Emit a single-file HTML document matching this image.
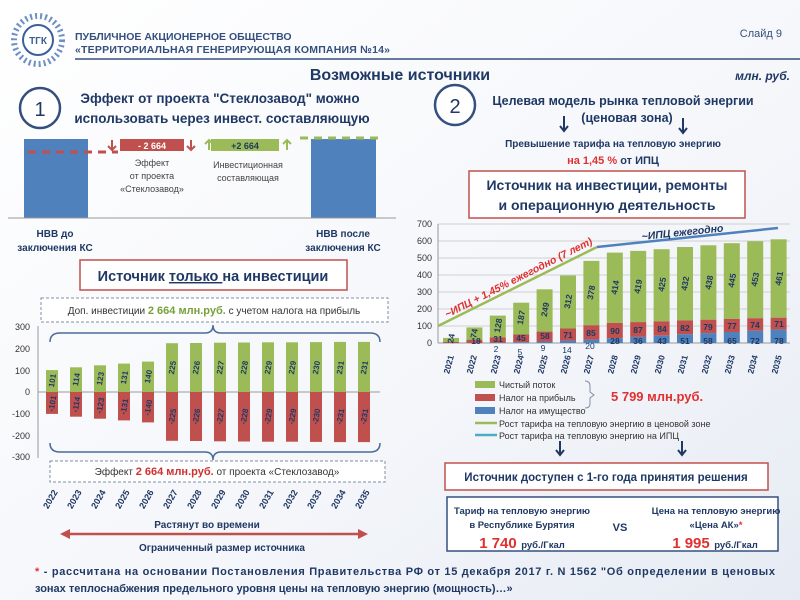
<!DOCTYPE html>
<html><head><meta charset="utf-8"><style>
html,body{margin:0;padding:0;background:#fff}
svg{display:block;font-family:"Liberation Sans","DejaVu Sans",sans-serif}
.b{font-weight:bold}
</style></head><body>
<svg width="800" height="600" viewBox="0 0 800 600" xmlns="http://www.w3.org/2000/svg">
<defs>
<linearGradient id="bg" x1="0" y1="0" x2="1" y2="1"><stop offset="0" stop-color="#fff"/><stop offset="0.6" stop-color="#f4f6fa"/><stop offset="1" stop-color="#e6ebf3"/></linearGradient>
</defs>
<rect width="800" height="600" fill="url(#bg)"/>
<!-- header -->
<g transform="translate(38,40)">
<circle r="24" fill="none" stroke="#6d8fc4" stroke-width="6" stroke-dasharray="2 3"/>
<circle r="15" fill="#fff" stroke="#3b5f9a" stroke-width="2"/>
<text x="0" y="4" font-size="10" text-anchor="middle" fill="#3b5f9a" class="b">ТГК</text>
</g>
<text x="75" y="40" font-size="10.5" class="b" fill="#35507e">ПУБЛИЧНОЕ АКЦИОНЕРНОЕ ОБЩЕСТВО</text>
<text x="75" y="53" font-size="10.5" class="b" fill="#35507e" textLength="315">«ТЕРРИТОРИАЛЬНАЯ ГЕНЕРИРУЮЩАЯ КОМПАНИЯ №14»</text>
<line x1="75" y1="59" x2="800" y2="59" stroke="#35507e" stroke-width="1.5"/>
<text x="782" y="37" font-size="11" fill="#35507e" text-anchor="end">Слайд 9</text>
<text x="400" y="80" font-size="16" class="b" fill="#1f3864" text-anchor="middle">Возможные источники</text>
<text x="790" y="80" font-size="12" class="b" font-style="italic" fill="#1f3864" text-anchor="end">млн. руб.</text>

<!-- section 1 -->
<circle cx="40" cy="108" r="20" fill="#fff" stroke="#35507e" stroke-width="2.5"/>
<text x="40" y="116" font-size="20" fill="#1f3864" text-anchor="middle">1</text>
<text x="220" y="103" font-size="13.5" class="b" fill="#1f3864" text-anchor="middle">Эффект от проекта "Стеклозавод" можно</text>
<text x="222" y="123" font-size="13.5" class="b" fill="#1f3864" text-anchor="middle">использовать  через инвест. составляющую</text>
<rect x="24" y="139" width="64" height="79" fill="#4f81bd"/>
<rect x="311" y="139" width="65" height="79" fill="#4f81bd"/>
<line x1="28" y1="152" x2="118" y2="152" stroke="#c0504d" stroke-width="3" stroke-dasharray="8 6"/>
<line x1="300" y1="138" x2="378" y2="138" stroke="#9bbb59" stroke-width="3" stroke-dasharray="8 6"/>
<line x1="8" y1="218" x2="396" y2="218" stroke="#999" stroke-width="1"/>
<rect x="120" y="139" width="64" height="12" fill="#c0504d"/>
<text x="152" y="149" font-size="9" class="b" fill="#fff" text-anchor="middle">- 2 664</text>
<rect x="211" y="139" width="68" height="12" fill="#9bbb59"/>
<text x="245" y="149" font-size="9" class="b" fill="#1f3864" text-anchor="middle">+2 664</text>
<path d="M112 140 L112 150 M108 146 L112 150 L116 146 M191 140 L191 150 M187 146 L191 150 L195 146" stroke="#c0504d" stroke-width="2" fill="none"/>
<path d="M209 150 L209 140 M205 144 L209 140 L213 144 M287 150 L287 140 M283 144 L287 140 L291 144" stroke="#9bbb59" stroke-width="2" fill="none"/>
<text x="152" y="166" font-size="9" fill="#444" text-anchor="middle">Эффект</text>
<text x="152" y="179" font-size="9" fill="#444" text-anchor="middle">от проекта</text>
<text x="152" y="192" font-size="9" fill="#444" text-anchor="middle">«Стеклозавод»</text>
<text x="248" y="168" font-size="9" fill="#444" text-anchor="middle">Инвестиционная</text>
<text x="248" y="181" font-size="9" fill="#444" text-anchor="middle">составляющая</text>
<text x="55" y="237" font-size="10" class="b" fill="#1f3864" text-anchor="middle">НВВ до</text>
<text x="55" y="251" font-size="10" class="b" fill="#1f3864" text-anchor="middle">заключения КС</text>
<text x="343" y="237" font-size="10" class="b" fill="#1f3864" text-anchor="middle">НВВ после</text>
<text x="343" y="251" font-size="10" class="b" fill="#1f3864" text-anchor="middle">заключения КС</text>
<rect x="80" y="260" width="267" height="30" fill="#fff" stroke="#c0504d" stroke-width="1.5"/>
<text x="213" y="281" font-size="14.5" class="b" fill="#1f3864" text-anchor="middle">Источник <tspan text-decoration="underline">только </tspan>на инвестиции</text>
<rect x="41" y="298" width="347" height="24" fill="#fff" stroke="#7f8fa6" stroke-dasharray="3 2"/>
<text x="214" y="314" font-size="10" fill="#333" text-anchor="middle">Доп. инвестиции <tspan class="b" fill="#77a03c" font-size="11">2 664 млн.руб.</tspan> с учетом налога на прибыль</text>
<rect x="50" y="461" width="335" height="21" fill="#fff" stroke="#7f8fa6" stroke-dasharray="3 2"/>
<text x="217" y="475" font-size="10" fill="#333" text-anchor="middle">Эффект <tspan class="b" fill="#d03030" font-size="11">2 664 млн.руб.</tspan> от проекта «Стеклозавод»</text>
<!-- braces -->
<path d="M50 342 Q50 333 60 333 L205 333 Q213 333 213 325 Q213 333 221 333 L370 333 Q380 333 380 342" fill="none" stroke="#4a6a9a" stroke-width="1.5"/>
<path d="M50 443 Q50 452 60 452 L205 452 Q213 452 213 460 Q213 452 221 452 L370 452 Q380 452 380 443" fill="none" stroke="#4a6a9a" stroke-width="1.5"/>
<!-- left chart axes -->
<g font-size="9" fill="#333" text-anchor="end">
<text x="30" y="330">300</text><text x="30" y="352">200</text><text x="30" y="374">100</text><text x="30" y="395">0</text>
<text x="30" y="417">-100</text><text x="30" y="439">-200</text><text x="30" y="460">-300</text></g>
<line x1="38" y1="326" x2="38" y2="458" stroke="#999"/>
<line x1="38" y1="392" x2="380" y2="392" stroke="#999"/>
<g fill="#9bbb59">
<rect x="46" y="370.1" width="12" height="21.9"/><rect x="70" y="367.3" width="12" height="24.7"/><rect x="94" y="365.3" width="12" height="26.7"/><rect x="118" y="363.6" width="12" height="28.4"/><rect x="142" y="361.6" width="12" height="30.4"/>
<rect x="166" y="343.2" width="12" height="48.8"/><rect x="190" y="343" width="12" height="49"/><rect x="214" y="342.7" width="12" height="49.3"/><rect x="238" y="342.5" width="12" height="49.5"/><rect x="262" y="342.3" width="12" height="49.7"/><rect x="286" y="342.3" width="12" height="49.7"/><rect x="310" y="342.1" width="12" height="49.9"/><rect x="334" y="341.9" width="12" height="50.1"/><rect x="358" y="341.9" width="12" height="50.1"/></g>
<g fill="#c0504d">
<rect x="46" y="392" width="12" height="21.9"/><rect x="70" y="392" width="12" height="24.7"/><rect x="94" y="392" width="12" height="26.7"/><rect x="118" y="392" width="12" height="28.4"/><rect x="142" y="392" width="12" height="30.4"/>
<rect x="166" y="392" width="12" height="48.8"/><rect x="190" y="392" width="12" height="49"/><rect x="214" y="392" width="12" height="49.3"/><rect x="238" y="392" width="12" height="49.5"/><rect x="262" y="392" width="12" height="49.7"/><rect x="286" y="392" width="12" height="49.7"/><rect x="310" y="392" width="12" height="49.9"/><rect x="334" y="392" width="12" height="50.1"/><rect x="358" y="392" width="12" height="50.1"/></g>
<g font-size="8" class="b" fill="#1f3864" text-anchor="middle">
<text transform="translate(55,381) rotate(-80)">101</text><text transform="translate(79,380) rotate(-80)">114</text><text transform="translate(103,379) rotate(-80)">123</text><text transform="translate(127,378) rotate(-80)">131</text><text transform="translate(151,377) rotate(-80)">140</text>
<text transform="translate(175,368) rotate(-80)">225</text><text transform="translate(199,368) rotate(-80)">226</text><text transform="translate(223,368) rotate(-80)">227</text><text transform="translate(247,368) rotate(-80)">228</text><text transform="translate(271,368) rotate(-80)">229</text><text transform="translate(295,368) rotate(-80)">229</text><text transform="translate(319,368) rotate(-80)">230</text><text transform="translate(343,368) rotate(-80)">231</text><text transform="translate(367,368) rotate(-80)">231</text>
<text transform="translate(55,404) rotate(-80)">-101</text><text transform="translate(79,405) rotate(-80)">-114</text><text transform="translate(103,406) rotate(-80)">-123</text><text transform="translate(127,407) rotate(-80)">-131</text><text transform="translate(151,408) rotate(-80)">-140</text>
<text transform="translate(175,417) rotate(-80)">-225</text><text transform="translate(199,417) rotate(-80)">-226</text><text transform="translate(223,417) rotate(-80)">-227</text><text transform="translate(247,417) rotate(-80)">-228</text><text transform="translate(271,417) rotate(-80)">-229</text><text transform="translate(295,417) rotate(-80)">-229</text><text transform="translate(319,417) rotate(-80)">-230</text><text transform="translate(343,417) rotate(-80)">-231</text><text transform="translate(367,417) rotate(-80)">-231</text></g>
<g font-size="9" class="b" fill="#1f3864" text-anchor="end">
<text transform="translate(58,492) rotate(-60)">2022</text><text transform="translate(82,492) rotate(-60)">2023</text><text transform="translate(106,492) rotate(-60)">2024</text><text transform="translate(130,492) rotate(-60)">2025</text><text transform="translate(154,492) rotate(-60)">2026</text><text transform="translate(178,492) rotate(-60)">2027</text><text transform="translate(202,492) rotate(-60)">2028</text><text transform="translate(226,492) rotate(-60)">2029</text><text transform="translate(250,492) rotate(-60)">2030</text><text transform="translate(274,492) rotate(-60)">2031</text><text transform="translate(298,492) rotate(-60)">2032</text><text transform="translate(322,492) rotate(-60)">2033</text><text transform="translate(346,492) rotate(-60)">2034</text><text transform="translate(370,492) rotate(-60)">2035</text></g>
<text x="207" y="528" font-size="10" class="b" fill="#1f3864" text-anchor="middle">Растянут во времени</text>
<path d="M66 534 L362 534" stroke="#c0504d" stroke-width="2.5"/>
<path d="M60 534 L70 529 L70 539 Z M368 534 L358 529 L358 539 Z" fill="#c0504d"/>
<text x="222" y="551" font-size="10" class="b" fill="#1f3864" text-anchor="middle">Ограниченный размер источника</text>

<!-- section 2 -->
<circle cx="455" cy="105" r="20" fill="#fff" stroke="#35507e" stroke-width="2.5"/>
<text x="455" y="113" font-size="20" fill="#1f3864" text-anchor="middle">2</text>
<text x="623" y="105" font-size="12.5" class="b" fill="#1f3864" text-anchor="middle">Целевая модель рынка тепловой энергии</text>
<text x="627" y="122" font-size="12.5" class="b" fill="#1f3864" text-anchor="middle">(ценовая зона)</text>
<path d="M564 116 L564 131 M560 126 L564 131 L568 126 M683 118 L683 133 M679 128 L683 133 L687 128" stroke="#1f3864" stroke-width="2" fill="none"/>
<text x="613" y="147" font-size="10" class="b" fill="#1f3864" text-anchor="middle">Превышение тарифа на тепловую энергию</text>
<text x="613" y="164" font-size="11" class="b" fill="#1f3864" text-anchor="middle"><tspan fill="#e03030">на 1,45 %</tspan> от ИПЦ</text>
<rect x="469" y="171" width="276" height="47" fill="#fff" stroke="#c0504d" stroke-width="1.5"/>
<text x="607" y="190" font-size="14" class="b" fill="#1f3864" text-anchor="middle">Источник на инвестиции, ремонты</text>
<text x="607" y="210" font-size="14" class="b" fill="#1f3864" text-anchor="middle">и операционную деятельность</text>
<!-- right chart -->
<g stroke="#d0d0d0"><line x1="438" y1="224" x2="790" y2="224"/><line x1="438" y1="241" x2="790" y2="241"/><line x1="438" y1="258" x2="790" y2="258"/><line x1="438" y1="275" x2="790" y2="275"/><line x1="438" y1="292" x2="790" y2="292"/><line x1="438" y1="309" x2="790" y2="309"/><line x1="438" y1="326" x2="790" y2="326"/></g>
<line x1="438" y1="224" x2="438" y2="343" stroke="#999"/><line x1="438" y1="343" x2="790" y2="343" stroke="#999"/>
<g font-size="9" fill="#333" text-anchor="end">
<text x="432" y="227">700</text><text x="432" y="244">600</text><text x="432" y="261">500</text><text x="432" y="278">400</text><text x="432" y="295">300</text><text x="432" y="312">200</text><text x="432" y="329">100</text><text x="432" y="346">0</text></g>
<g fill="#9bbb59">
<rect x="443" y="337.9" width="16" height="4.1"/><rect x="466.4" y="327.4" width="16" height="12.6"/><rect x="489.8" y="315.6" width="16" height="21.8"/><rect x="513.2" y="302.7" width="16" height="31.8"/><rect x="536.6" y="289.3" width="16" height="42.3"/><rect x="560" y="275.5" width="16" height="53"/><rect x="583.4" y="260.9" width="16" height="64.3"/><rect x="606.8" y="252.6" width="16" height="70.3"/><rect x="630.2" y="250.9" width="16" height="71.2"/><rect x="653.6" y="249.2" width="16" height="72.2"/><rect x="677" y="247" width="16" height="73.4"/><rect x="700.4" y="245.3" width="16" height="74.4"/><rect x="723.8" y="243.2" width="16" height="75.7"/><rect x="747.2" y="241.2" width="16" height="77"/><rect x="770.6" y="239.3" width="16" height="78.4"/></g>
<g fill="#c0504d">
<rect x="443" y="342" width="16" height="1"/><rect x="466.4" y="339.9" width="16" height="3.1"/><rect x="489.8" y="337.4" width="16" height="5.3"/><rect x="513.2" y="334.5" width="16" height="7.7"/><rect x="536.6" y="331.6" width="16" height="9.9"/><rect x="560" y="328.5" width="16" height="12.1"/><rect x="583.4" y="325.2" width="16" height="14.4"/><rect x="606.8" y="322.9" width="16" height="15.3"/><rect x="630.2" y="322.1" width="16" height="14.8"/><rect x="653.6" y="321.4" width="16" height="14.3"/><rect x="677" y="320.4" width="16" height="13.9"/><rect x="700.4" y="319.7" width="16" height="13.4"/><rect x="723.8" y="318.9" width="16" height="13.1"/><rect x="747.2" y="318.2" width="16" height="12.6"/><rect x="770.6" y="317.7" width="16" height="12.1"/></g>
<g fill="#4f81bd">
<rect x="489.8" y="342.7" width="16" height="0.3"/><rect x="513.2" y="342.2" width="16" height="0.9"/><rect x="536.6" y="341.5" width="16" height="1.5"/><rect x="560" y="340.6" width="16" height="2.4"/><rect x="583.4" y="339.6" width="16" height="3.4"/><rect x="606.8" y="338.2" width="16" height="4.8"/><rect x="630.2" y="336.9" width="16" height="6.1"/><rect x="653.6" y="335.7" width="16" height="7.3"/><rect x="677" y="334.3" width="16" height="8.7"/><rect x="700.4" y="333.1" width="16" height="9.9"/><rect x="723.8" y="332" width="16" height="11"/><rect x="747.2" y="330.8" width="16" height="12.2"/><rect x="770.6" y="329.7" width="16" height="13.3"/></g>
<polyline points="438,326 597,247" fill="none" stroke="#9bbb59" stroke-width="2.5"/>
<polyline points="597,247 778,228" fill="none" stroke="#4f81bd" stroke-width="2.5"/>
<text transform="translate(447,318) rotate(-27)" font-size="10.5" class="b" font-style="italic" fill="#e03030">~ИПЦ + 1,45% ежегодно (7 лет)</text>
<text transform="translate(642,240) rotate(-6)" font-size="10.5" class="b" font-style="italic" fill="#1f3864">~ИПЦ ежегодно</text>
<g font-size="8.5" class="b" fill="#1f3864" text-anchor="middle">
<text transform="translate(454,339) rotate(-80)">24</text><text transform="translate(477,334) rotate(-80)">74</text><text transform="translate(501,326) rotate(-80)">128</text><text transform="translate(524,318) rotate(-80)">187</text><text transform="translate(548,310) rotate(-80)">249</text><text transform="translate(571,302) rotate(-80)">312</text><text transform="translate(594,293) rotate(-80)">378</text><text transform="translate(618,288) rotate(-80)">414</text><text transform="translate(641,287) rotate(-80)">419</text><text transform="translate(665,285) rotate(-80)">425</text><text transform="translate(688,284) rotate(-80)">432</text><text transform="translate(712,283) rotate(-80)">438</text><text transform="translate(735,281) rotate(-80)">445</text><text transform="translate(758,280) rotate(-80)">453</text><text transform="translate(782,279) rotate(-80)">461</text>
<text x="476" y="344">18</text><text x="498" y="342">31</text><text x="521" y="341">45</text><text x="545" y="339">58</text><text x="568" y="338">71</text><text x="591" y="336">85</text><text x="615" y="334">90</text><text x="638" y="333">87</text><text x="662" y="332">84</text><text x="685" y="331">82</text><text x="708" y="330">79</text><text x="732" y="329">77</text><text x="755" y="328">74</text><text x="779" y="327">71</text>
<text x="615" y="344">28</text><text x="638" y="344">36</text><text x="662" y="344">43</text><text x="685" y="344">51</text><text x="708" y="344">58</text><text x="732" y="344">65</text><text x="755" y="344">72</text><text x="779" y="344">78</text>
<text x="496" y="352" font-weight="normal">2</text><text x="520" y="355" font-weight="normal">5</text><text x="543" y="351" font-weight="normal">9</text><text x="567" y="353" font-weight="normal">14</text><text x="590" y="349" font-weight="normal">20</text></g>
<g font-size="8.5" class="b" fill="#1f3864" text-anchor="end">
<text transform="translate(454,356) rotate(-75)">2021</text><text transform="translate(477,356) rotate(-75)">2022</text><text transform="translate(501,356) rotate(-75)">2023</text><text transform="translate(524,356) rotate(-75)">2024</text><text transform="translate(548,356) rotate(-75)">2025</text><text transform="translate(571,356) rotate(-75)">2026</text><text transform="translate(594,356) rotate(-75)">2027</text><text transform="translate(618,356) rotate(-75)">2028</text><text transform="translate(641,356) rotate(-75)">2029</text><text transform="translate(665,356) rotate(-75)">2030</text><text transform="translate(688,356) rotate(-75)">2031</text><text transform="translate(712,356) rotate(-75)">2032</text><text transform="translate(735,356) rotate(-75)">2033</text><text transform="translate(758,356) rotate(-75)">2034</text><text transform="translate(782,356) rotate(-75)">2035</text></g>
<!-- legend -->
<rect x="475" y="381" width="20" height="7" fill="#9bbb59"/><rect x="475" y="394" width="20" height="7" fill="#c0504d"/><rect x="475" y="407" width="20" height="7" fill="#4f81bd"/>
<line x1="475" y1="423" x2="497" y2="423" stroke="#9bbb59" stroke-width="2.5"/><line x1="475" y1="435" x2="497" y2="435" stroke="#4bacc6" stroke-width="2.5"/>
<g font-size="9" fill="#333"><text x="499" y="388">Чистый поток</text><text x="499" y="401">Налог на прибыль</text><text x="499" y="414">Налог на имущество</text><text x="499" y="427">Рост тарифа на тепловую энергию в ценовой зоне</text><text x="499" y="439">Рост тарифа на тепловую энергию на ИПЦ</text></g>
<path d="M585 381 Q590 381 590 386 L590 392 L594 395 L590 398 L590 404 Q590 408 585 408" fill="none" stroke="#7f8fa6"/>
<text x="611" y="401" font-size="13" class="b" fill="#e03030">5 799 млн.руб.</text>
<path d="M560 441 L560 455 M556 450 L560 455 L564 450 M682 441 L682 455 M678 450 L682 455 L686 450" stroke="#1f3864" stroke-width="2" fill="none"/>
<rect x="445" y="463" width="323" height="27" fill="#fff" stroke="#c0504d" stroke-width="1.5"/>
<text x="606" y="481" font-size="11.5" class="b" fill="#1f3864" text-anchor="middle">Источник доступен с 1-го года принятия решения</text>
<rect x="447" y="497" width="331" height="54" fill="#fff" stroke="#35507e" stroke-width="1.5"/>
<text x="522" y="514" font-size="9.5" class="b" fill="#1f3864" text-anchor="middle">Тариф на тепловую энергию</text>
<text x="522" y="528" font-size="9.5" class="b" fill="#1f3864" text-anchor="middle">в Республике Бурятия</text>
<text x="620" y="531" font-size="11" class="b" fill="#1f3864" text-anchor="middle">VS</text>
<text x="716" y="514" font-size="9.5" class="b" fill="#1f3864" text-anchor="middle">Цена на тепловую энергию</text>
<text x="716" y="528" font-size="9.5" class="b" fill="#1f3864" text-anchor="middle">«Цена АК»<tspan fill="#e03030">*</tspan></text>
<text x="522" y="548" class="b" text-anchor="middle"><tspan font-size="15" fill="#e03030">1 740</tspan> <tspan font-size="9.5" fill="#1f3864">руб./Гкал</tspan></text>
<text x="715" y="548" class="b" text-anchor="middle"><tspan font-size="15" fill="#e03030">1 995</tspan> <tspan font-size="9.5" fill="#1f3864">руб./Гкал</tspan></text>
<!-- footnote -->
<text x="35" y="575" font-size="11" class="b" fill="#1f3864" textLength="740"><tspan fill="#e03030">*</tspan> - рассчитана на основании Постановления Правительства РФ от 15 декабря 2017 г. N 1562 "Об определении в ценовых</text>
<text x="35" y="592" font-size="11" class="b" fill="#1f3864">зонах теплоснабжения предельного уровня цены на тепловую энергию (мощность)…»</text>
</svg>
</body></html>
